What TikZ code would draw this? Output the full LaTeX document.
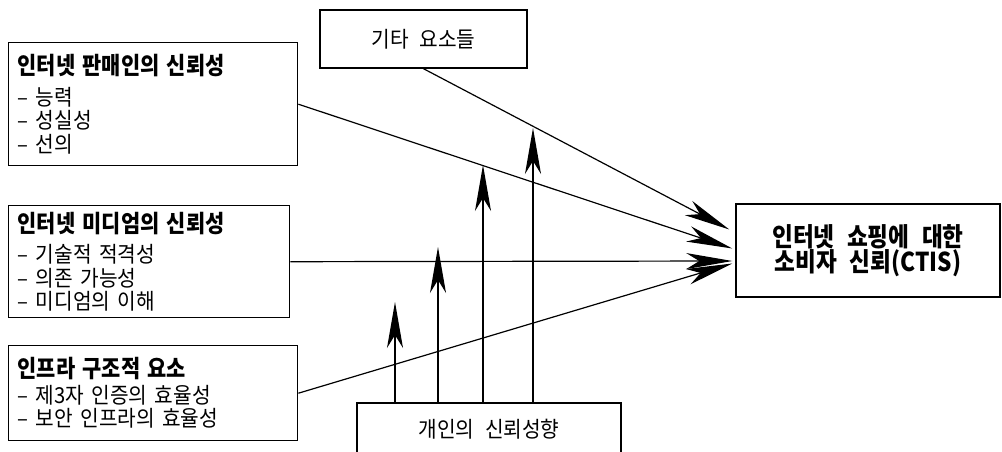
\documentclass[tikz,border=0pt]{standalone}
\usepackage{fontspec}
\setmainfont{Noto Sans CJK KR}[WordSpace=2.4, FakeStretch=0.92]
\newfontfamily\headfont{Noto Sans CJK KR}[WordSpace=2.4, FakeStretch=0.87]
\usetikzlibrary{arrows.meta,calc}

\newcommand{\headline}[1]{{\fontsize{24pt}{23.5pt}\headfont\bfseries #1}}

\tikzset{
  box/.style={draw, line width=1.4pt, inner sep=0pt, font=\fontsize{22pt}{23.5pt}\selectfont},
  list/.style={box, anchor=north west, align=left, inner xsep=9pt},
  arr/.style={line width=1.2pt, -{Stealth[length=46pt,width=16pt,inset=13pt]}}
}

\begin{document}
\begin{tikzpicture}[x=1pt,y=-1pt]
    \useasboundingbox (0,0) rectangle (1002,452);

    % factor boxes on the left
    \node[list, text width=271pt, minimum height=123pt] (seller) at (8,42)
        {\headline{인터넷 판매인의 신뢰성}\\[7pt] – 능력\\ – 성실성\\ – 선의};
    \node[list, text width=263pt, minimum height=112pt] (media) at (8,205)
        {\headline{인터넷 미디엄의 신뢰성}\\[7pt] – 기술적 적격성\\ – 의존 가능성\\ – 미디엄의 이해};
    \node[list, text width=271pt, minimum height=95pt] (infra) at (8,345)
        {\headline{인프라 구조적 요소}\\[2pt] – 제3자 인증의 효율성\\ – 보안 인프라의 효율성};

    \node[box, minimum width=207pt, minimum height=58pt] (others) at (423.5,39) {기타 요소들};
    \node[box, minimum width=264pt, minimum height=93pt, align=center, font=\fontsize{26pt}{25pt}\headfont\bfseries] (ctis) at (868,250.5)
        {인터넷 쇼핑에 대한\\소비자 신뢰(CTIS)};
    \node[box, minimum width=264pt, minimum height=52pt] (personal) at (489,429) {개인의 신뢰성향};

    % main paths
    \draw[arr] (others.south) -- ($(ctis.west)+(-6,-21)$);
    \draw[arr] (seller.east) -- ($(ctis.west)+(-3,-2)$);
    \draw[arr] (media.east) -- ($(ctis.west)+(-3,10.5)$);
    \draw[arr] (infra.east) -- ($(ctis.west)+(-3,13)$);

    % moderating arrows
    \coordinate (p1) at (395,302);
    \coordinate (p2) at (438,247);
    \coordinate (p3) at (483,165);
    \coordinate (p4) at (533,128);
    \foreach \p in {p1,p2,p3,p4}
        \draw[arr] (personal.north -| \p) -- (\p);
\end{tikzpicture}
\end{document}
